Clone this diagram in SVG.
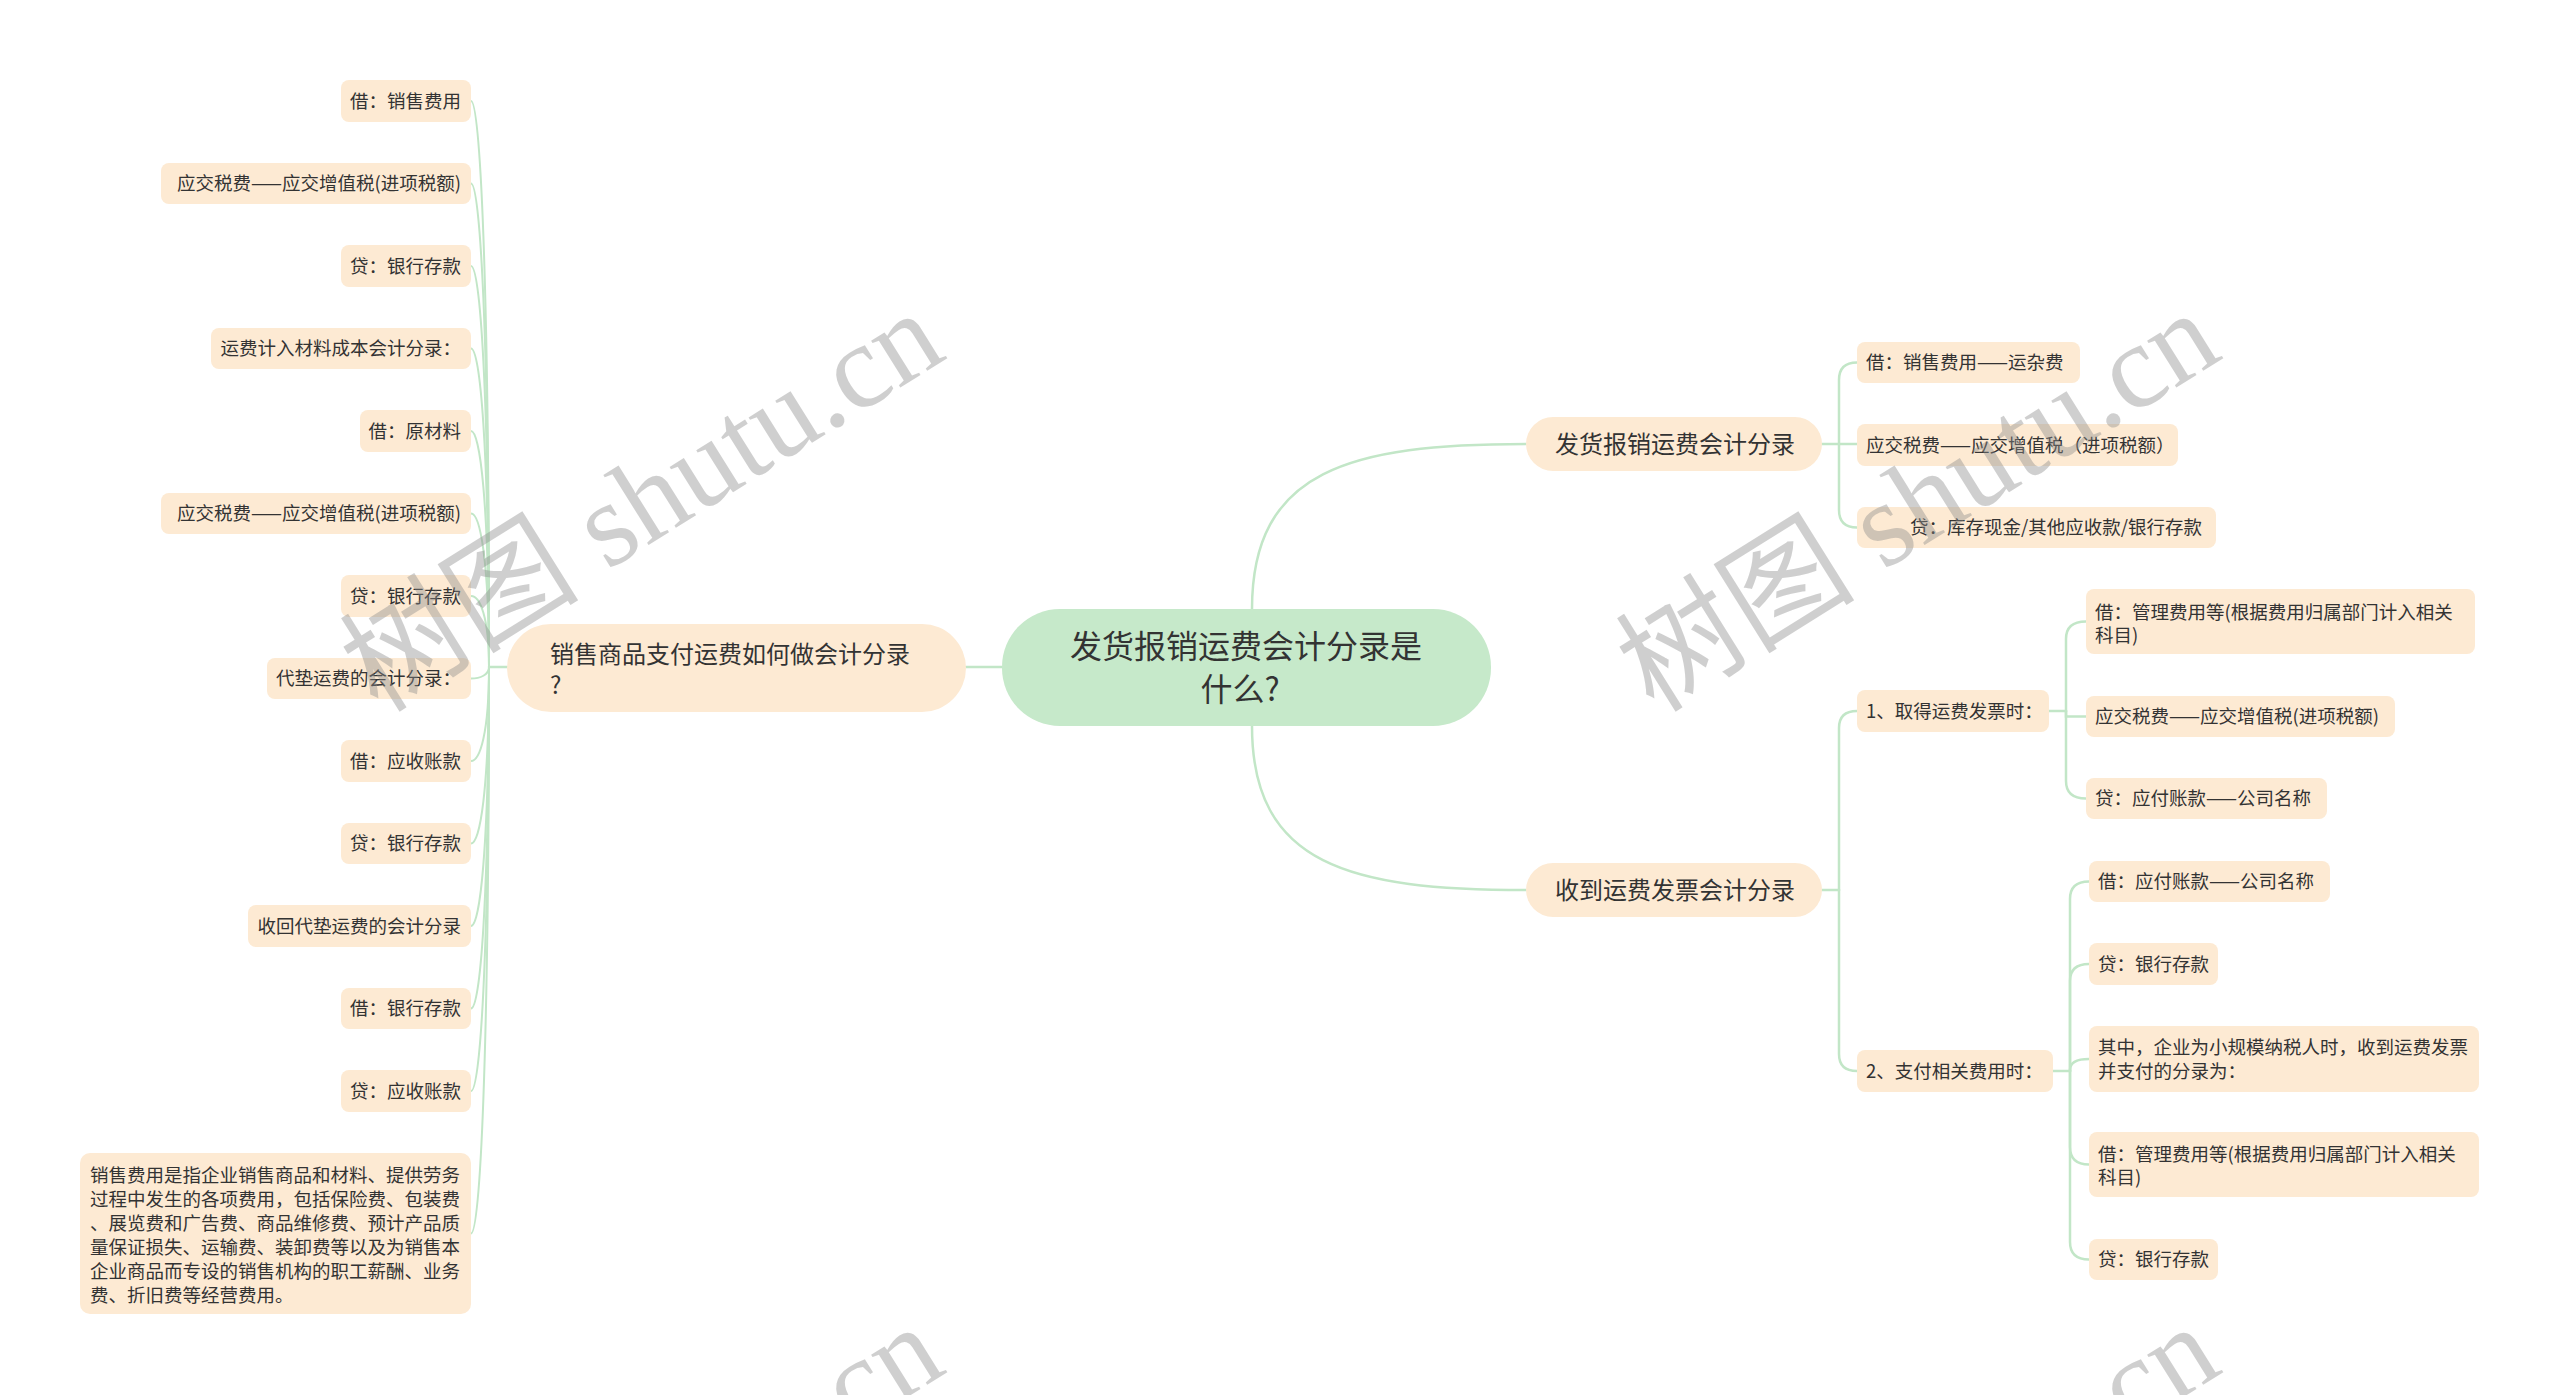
<svg xmlns="http://www.w3.org/2000/svg" width="2560" height="1395" viewBox="0 0 2560 1395">
<style>
.n{fill:#fdead3}
.c{fill:#c6e9ca}
.t{font-family:"Noto Sans CJK SC","Liberation Sans",sans-serif;font-size:18.5px;fill:#333}
.t24{font-family:"Noto Sans CJK SC","Liberation Sans",sans-serif;font-size:24px;fill:#333}
.t32{font-family:"Noto Sans CJK SC","Liberation Sans",sans-serif;font-size:32px;fill:#333}
.e{text-anchor:end}
.l{fill:none;stroke:#c2e6c7;stroke-width:2.5;stroke-linecap:round}
.lt{fill:none;stroke:#c2e6c7;stroke-width:2;stroke-linecap:round}
.wm{font-family:"Liberation Serif","Noto Sans CJK SC",serif;font-size:120px;fill:#8a8a8a;opacity:.4}
</style>
<rect width="2560" height="1395" fill="#fff"/>
<g id="connectors">
<path class="l" d="M1002 667 L966 667"/>
<path class="l" d="M1252 609 C1252 470 1350 444 1526 444"/>
<path class="l" d="M1252 726 C1252 865 1350 890 1526 890"/>
<path class="l" d="M507 667 L489 667"/>
<path class="lt" d="M489 667 C489 271 480 101 471 101"/>
<path class="lt" d="M489 667 C489 329 480 183.5 471 183.5"/>
<path class="lt" d="M489 667 C489 386 480 266 471 266"/>
<path class="lt" d="M489 667 C489 444 480 348.5 471 348.5"/>
<path class="lt" d="M489 667 C489 502 480 431 471 431"/>
<path class="lt" d="M489 667 C489 559 480 513.5 471 513.5"/>
<path class="lt" d="M489 667 C489 617 480 596 471 596"/>
<path class="lt" d="M489 667 C489 675 480 678.5 471 678.5"/>
<path class="lt" d="M489 667 C489 733 480 761 471 761"/>
<path class="lt" d="M489 667 C489 790 480 843.5 471 843.5"/>
<path class="lt" d="M489 667 C489 848 480 926 471 926"/>
<path class="lt" d="M489 667 C489 906 480 1008.5 471 1008.5"/>
<path class="lt" d="M489 667 C489 964 480 1091 471 1091"/>
<path class="lt" d="M489 667 C489 1063 480 1233.5 471 1233.5"/>
<path class="l" d="M1822 444 L1857 444"/>
<path class="l" d="M1839 444 L1839 380 Q1839 362.5 1857 362.5"/>
<path class="l" d="M1839 444 L1839 510 Q1839 527.5 1857 527.5"/>
<path class="l" d="M1822 890 L1839 890"/>
<path class="l" d="M1839 890 L1839 728 Q1839 711 1857 711"/>
<path class="l" d="M1839 890 L1839 1054 Q1839 1071 1857 1071"/>
<path class="l" d="M2049 711 L2066 711"/>
<path class="l" d="M2066 711 L2066 639 Q2066 621.5 2086 621.5"/>
<path class="l" d="M2066 711 L2066 716.5 L2086 716.5"/>
<path class="l" d="M2066 711 L2066 781 Q2066 798.5 2086 798.5"/>
<path class="l" d="M2053 1071 L2070 1071"/>
<path class="l" d="M2070 1071 L2070 899 Q2070 881.5 2089 881.5"/>
<path class="l" d="M2070 1071 L2070 981 Q2070 964 2089 964"/>
<path class="l" d="M2070 1071 L2070 1070 Q2070 1059 2089 1059"/>
<path class="l" d="M2070 1071 L2070 1147 Q2070 1164.5 2089 1164.5"/>
<path class="l" d="M2070 1071 L2070 1242 Q2070 1259.5 2089 1259.5"/>
</g>
<g id="root"><rect class="c" x="1002" y="609" width="489" height="117" rx="58"/><text class="t32" x="1246" y="658" text-anchor="middle">发货报销运费会计分录是</text><text class="t32" x="1240" y="701" text-anchor="middle">什么?</text></g>
<g id="left-main"><rect class="n" x="507" y="624" width="459" height="88" rx="44"/><text class="t24" x="550" y="663">销售商品支付运费如何做会计分录</text><text class="t24" x="550" y="694">?</text></g>
<g id="l1"><rect class="n" x="341" y="80" width="130" height="42" rx="8"/><text class="t e" x="461" y="108">借：销售费用</text></g>
<g id="l2"><rect class="n" x="161" y="163" width="310" height="41" rx="8"/><text class="t e" x="461" y="190">应交税费——应交增值税(进项税额)</text></g>
<g id="l3"><rect class="n" x="341" y="245" width="130" height="42" rx="8"/><text class="t e" x="461" y="273">贷：银行存款</text></g>
<g id="l4"><rect class="n" x="211" y="328" width="260" height="41" rx="8"/><text class="t e" x="461" y="355">运费计入材料成本会计分录：</text></g>
<g id="l5"><rect class="n" x="360" y="410" width="111" height="42" rx="8"/><text class="t e" x="461" y="438">借：原材料</text></g>
<g id="l6"><rect class="n" x="161" y="493" width="310" height="41" rx="8"/><text class="t e" x="461" y="520">应交税费——应交增值税(进项税额)</text></g>
<g id="l7"><rect class="n" x="341" y="575" width="130" height="42" rx="8"/><text class="t e" x="461" y="603">贷：银行存款</text></g>
<g id="l8"><rect class="n" x="267" y="658" width="204" height="41" rx="8"/><text class="t e" x="461" y="685">代垫运费的会计分录：</text></g>
<g id="l9"><rect class="n" x="341" y="740" width="130" height="42" rx="8"/><text class="t e" x="461" y="768">借：应收账款</text></g>
<g id="l10"><rect class="n" x="341" y="823" width="130" height="41" rx="8"/><text class="t e" x="461" y="850">贷：银行存款</text></g>
<g id="l11"><rect class="n" x="248" y="905" width="223" height="42" rx="8"/><text class="t e" x="461" y="933">收回代垫运费的会计分录</text></g>
<g id="l12"><rect class="n" x="341" y="988" width="130" height="41" rx="8"/><text class="t e" x="461" y="1015">借：银行存款</text></g>
<g id="l13"><rect class="n" x="341" y="1070" width="130" height="42" rx="8"/><text class="t e" x="461" y="1098">贷：应收账款</text></g>
<g id="l14"><rect class="n" x="80" y="1153" width="391" height="161" rx="10"/>
<text class="t" x="90" y="1182">销售费用是指企业销售商品和材料、提供劳务</text>
<text class="t" x="90" y="1206">过程中发生的各项费用，包括保险费、包装费</text>
<text class="t" x="90" y="1230">、展览费和广告费、商品维修费、预计产品质</text>
<text class="t" x="90" y="1254">量保证损失、运输费、装卸费等以及为销售本</text>
<text class="t" x="90" y="1278">企业商品而专设的销售机构的职工薪酬、业务</text>
<text class="t" x="90" y="1302">费、折旧费等经营费用。</text></g>
<g id="r-a"><rect class="n" x="1526" y="417" width="296" height="54" rx="27"/><text class="t24" x="1555" y="453">发货报销运费会计分录</text></g>
<g id="r-a1"><rect class="n" x="1857" y="342" width="223" height="41" rx="8"/><text class="t" x="1866" y="369">借：销售费用——运杂费</text></g>
<g id="r-a2"><rect class="n" x="1857" y="424" width="321" height="42" rx="8"/><text class="t" x="1866" y="452">应交税费——应交增值税（进项税额）</text></g>
<g id="r-a3"><rect class="n" x="1857" y="507" width="359" height="41" rx="8"/><text class="t" x="1910" y="534">贷：库存现金/其他应收款/银行存款</text></g>
<g id="r-b"><rect class="n" x="1526" y="863" width="296" height="54" rx="27"/><text class="t24" x="1555" y="899">收到运费发票会计分录</text></g>
<g id="r-b1"><rect class="n" x="1857" y="690" width="192" height="42" rx="8"/><text class="t" x="1866" y="718">1、取得运费发票时：</text></g>
<g id="r-b1a"><rect class="n" x="2086" y="589" width="389" height="65" rx="8"/><text class="t" x="2095" y="619">借：管理费用等(根据费用归属部门计入相关</text><text class="t" x="2095" y="642">科目)</text></g>
<g id="r-b1b"><rect class="n" x="2086" y="696" width="309" height="41" rx="8"/><text class="t" x="2095" y="723">应交税费——应交增值税(进项税额)</text></g>
<g id="r-b1c"><rect class="n" x="2086" y="778" width="241" height="41" rx="8"/><text class="t" x="2095" y="805">贷：应付账款——公司名称</text></g>
<g id="r-b2"><rect class="n" x="1857" y="1050" width="196" height="42" rx="8"/><text class="t" x="1866" y="1078">2、支付相关费用时：</text></g>
<g id="r-b2a"><rect class="n" x="2089" y="861" width="241" height="41" rx="8"/><text class="t" x="2098" y="888">借：应付账款——公司名称</text></g>
<g id="r-b2b"><rect class="n" x="2089" y="943" width="129" height="42" rx="8"/><text class="t" x="2098" y="971">贷：银行存款</text></g>
<g id="r-b2c"><rect class="n" x="2089" y="1026" width="390" height="66" rx="8"/><text class="t" x="2098" y="1054">其中，企业为小规模纳税人时，收到运费发票</text><text class="t" x="2098" y="1078">并支付的分录为：</text></g>
<g id="r-b2d"><rect class="n" x="2089" y="1132" width="390" height="65" rx="8"/><text class="t" x="2098" y="1161">借：管理费用等(根据费用归属部门计入相关</text><text class="t" x="2098" y="1184">科目)</text></g>
<g id="r-b2e"><rect class="n" x="2089" y="1239" width="129" height="41" rx="8"/><text class="t" x="2098" y="1266">贷：银行存款</text></g>
<g id="watermark">
<text class="wm" transform="translate(378 714) rotate(-32)">树图 shutu.cn</text>
<text class="wm" transform="translate(1654 714) rotate(-32)">树图 shutu.cn</text>
<text class="wm" transform="translate(378 1728) rotate(-32)">树图 shutu.cn</text>
<text class="wm" transform="translate(1654 1728) rotate(-32)">树图 shutu.cn</text>
</g>
</svg>
